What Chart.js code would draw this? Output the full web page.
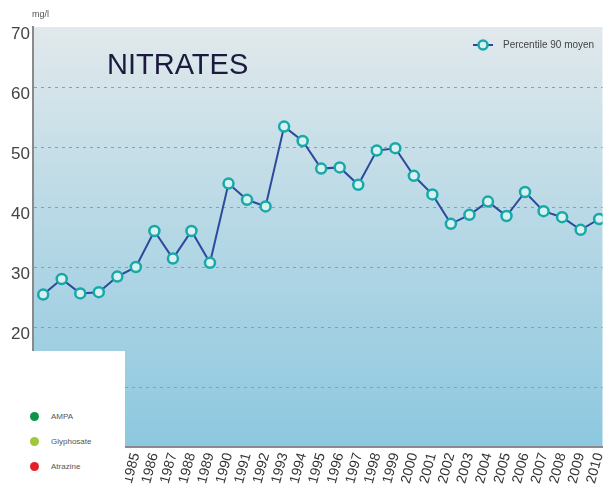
<!DOCTYPE html>
<html>
<head>
<meta charset="utf-8">
<script src="https://cdn.jsdelivr.net/npm/chart.js@4"></script>
<style>
  body { margin: 0; background: #fff; font-family: "Liberation Sans", Arial, sans-serif; }
  #wrap { position: relative; width: 610px; height: 489px; }
  #unit { position: absolute; left: 32px; top: 9px; font-size: 9px; color: #555; }
  #otherLegend { position: absolute; left: 0; top: 351px; width: 125px; height: 138px; background: #fff; }
  #otherLegend .item { position: absolute; left: 30px; font-size: 8px; color: #555; }
  #otherLegend .dot { display: inline-block; width: 9px; height: 9px; border-radius: 50%; vertical-align: middle; margin-right: 12px; }
  #strip { position: absolute; left: 0; top: 385px; width: 10px; height: 55px; background: linear-gradient(#d6ecf6, #a9d6ea); }
</style>
</head>
<body>
<div id="wrap">
  <canvas id="nitrateChart" width="610" height="489"></canvas>
  <div id="unit">mg/l</div>
  <div id="otherLegend">
    <div id="strip"></div>
    <div class="item" style="top:61px"><span class="dot" style="background:#0d9447"></span>AMPA</div>
    <div class="item" style="top:86px"><span class="dot" style="background:#9cc93b"></span>Glyphosate</div>
    <div class="item" style="top:111px"><span class="dot" style="background:#e5202b"></span>Atrazine</div>
  </div>
</div>
<script>
// DATA
const years = [];
for (let y = 1980; y <= 2010; y++) years.push(y);

const percentile90 = [
    25.4, 28.0, 25.6, 25.8, 28.4, 30.0, 36.0, 31.4, 36.0, 30.7,
    43.9, 41.2, 40.1, 53.4, 51.0, 46.4, 46.6, 43.7, 49.4, 49.8,
    45.2, 42.1, 37.2, 38.7, 40.9, 38.5, 42.5, 39.3, 38.3, 36.2,
    38.0
];

const yTicks = [0, 10, 20, 30, 40, 50, 60, 70];

const LINE_COLOR = "#2b4b9c";
const POINT_COLOR = "#17a8a8";

// PLOT BACKGROUND + TITLE + LEGEND
const decorPlugin = {
    id: "decor",
    beforeDraw(chart) {
        const { ctx, chartArea: a } = chart;
        const g = ctx.createLinearGradient(0, a.top, 0, a.bottom);
        g.addColorStop(0, "#e1e9ec");
        g.addColorStop(0.45, "#b9d9e6");
        g.addColorStop(1, "#8cc8df");
        ctx.save();
        ctx.fillStyle = g;
        ctx.fillRect(a.left, a.top, a.right - a.left, a.bottom - a.top);
        ctx.restore();
    },
    afterDraw(chart) {
        const { ctx } = chart;
        ctx.save();
        ctx.fillStyle = "#1b1b3d";
        ctx.font = "29px 'Liberation Sans', Arial";
        ctx.textBaseline = "alphabetic";
        ctx.fillText("NITRATES", 107, 74);

        // legend
        ctx.strokeStyle = LINE_COLOR;
        ctx.lineWidth = 2;
        ctx.beginPath();
        ctx.moveTo(473, 45);
        ctx.lineTo(493, 45);
        ctx.stroke();
        ctx.beginPath();
        ctx.arc(483, 45, 4.5, 0, Math.PI * 2);
        ctx.fillStyle = "#d8f0f0";
        ctx.fill();
        ctx.strokeStyle = POINT_COLOR;
        ctx.lineWidth = 2.5;
        ctx.stroke();
        ctx.fillStyle = "#444";
        ctx.font = "10px 'Liberation Sans', Arial";
        ctx.textBaseline = "middle";
        ctx.fillText("Percentile 90 moyen", 503, 45);
        ctx.restore();
    }
};

document.addEventListener("DOMContentLoaded", () => {
    const ctx = document.getElementById("nitrateChart");
    new Chart(ctx, {
        type: "line",
        data: {
            datasets: [{
                label: "Percentile 90 moyen",
                data: years.map((y, i) => ({ x: y, y: percentile90[i] })),
                borderColor: LINE_COLOR,
                borderWidth: 2,
                pointRadius: 5,
                pointBorderWidth: 2.5,
                pointBorderColor: POINT_COLOR,
                pointBackgroundColor: "#d8f0f0",
                tension: 0
            }]
        },
        options: {
            responsive: false,
            animation: false,
            layout: { padding: { top: 27, right: 0, left: 0, bottom: 0 } },
            plugins: { legend: { display: false }, tooltip: { enabled: false } },
            scales: {
                x: {
                    type: "linear",
                    min: 1979.45,
                    max: 2010.18,
                    afterBuildTicks: s => { s.ticks = years.map(v => ({ value: v })); },
                    afterFit: s => { s.height = 42; s.paddingRight = 0; s.paddingLeft = 0; },
                    grid: { display: false, drawTicks: false },
                    border: { color: "#8a8a8a", width: 2 },
                    ticks: {
                        autoSkip: false,
                        minRotation: 75,
                        maxRotation: 75,
                        padding: 4,
                        color: "#333",
                        font: { family: "'Liberation Sans', Arial", size: 14 },
                        callback: v => String(v)
                    }
                },
                y: {
                    min: 0,
                    max: 70,
                    afterBuildTicks: s => { s.ticks = yTicks.map(v => ({ value: v })); },
                    afterFit: s => { s.width = 33; },
                    grid: {
                        drawTicks: false,
                        color: c => (c.tick.value === 0 || c.tick.value === 70) ? "rgba(0,0,0,0)" : "#9a9a9a",
                        lineWidth: 1
                    },
                    border: { color: "#8a8a8a", width: 2, dash: [3, 4] },
                    ticks: {
                        padding: 3,
                        labelOffset: 7,
                        color: "#444",
                        font: { family: "'Liberation Sans', Arial", size: 17 }
                    }
                }
            }
        },
        plugins: [decorPlugin]
    });
});
</script>
</body>
</html>
